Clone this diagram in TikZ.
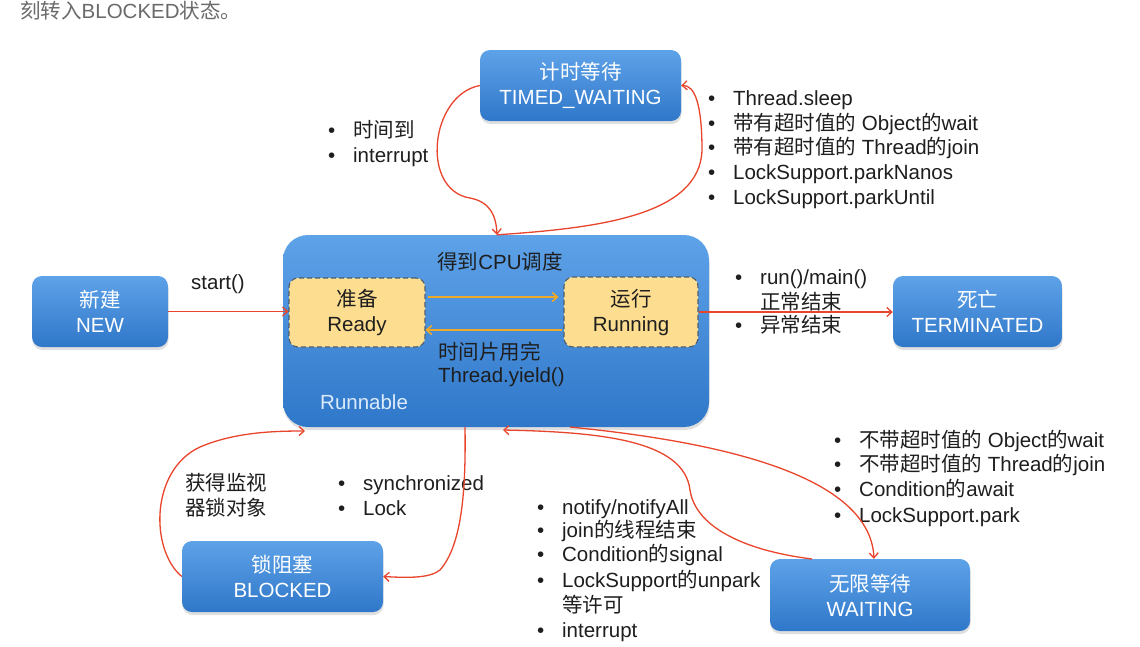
\documentclass[tikz,border=0pt]{standalone}
\usepackage{fontspec}
\setmainfont{Liberation Sans}
\newfontfamily\cjkf{Noto Sans CJK SC}
\newcommand\zh[1]{{\cjkf #1}}
\newcommand\bitem[1]{\makebox[25pt][l]{\textbullet}#1}
\usetikzlibrary{arrows.meta,shadows}
\definecolor{boxtop}{HTML}{5EA2E8}
\definecolor{boxbot}{HTML}{2F77C9}
\definecolor{redline}{HTML}{E8452C}
\definecolor{yel}{HTML}{EFA928}
\definecolor{readyfill}{HTML}{FDDD90}
\definecolor{dashc}{HTML}{4F5D6E}
\definecolor{txt}{HTML}{1E1E1E}
\definecolor{graytxt}{HTML}{6A6A6A}
\definecolor{runlbl}{HTML}{DCEBFA}
\begin{document}
\begin{tikzpicture}[x=1pt,y=-1pt,
  every node/.style={font=\fontsize{20.5}{25}\selectfont, text=txt},
  state/.style={rounded corners=10pt, top color=boxtop, bottom color=boxbot, draw=none, text=white, align=center, inner sep=0pt,
    drop shadow={shadow xshift=0.5pt,shadow yshift=-3pt,opacity=0.25}},
  bigstate/.style={state, rounded corners=25pt},
  sub/.style={rounded corners=9pt, fill=readyfill, draw=dashc, dash pattern=on 5pt off 3pt, line width=1.1pt, align=center, inner sep=0pt},
  redarr/.style={draw=redline, line width=1.3pt, -{Straight Barb[length=5pt,width=9pt]}},
  yelarr/.style={draw=yel, line width=1.6pt, -{Straight Barb[length=5pt,width=9pt]}},
  lbl/.style={anchor=base west, inner sep=0pt},
]
\useasboundingbox[fill=white] (0,0) rectangle (1140,646);

% top cut-off text
\node[lbl, text=graytxt] (top) at (20,18) {\zh{刻转入}BLOCKED\zh{状态。}};

% states
\node[bigstate, minimum width=426pt, minimum height=192pt] (run) at (496,331) {};
\node[sub, minimum width=136pt, minimum height=69pt] (ready) at (357,312.5) {\zh{准备}\\Ready};
\node[sub, minimum width=134pt, minimum height=70pt] (running) at (631,312) {\zh{运行}\\Running};
\node[state, minimum width=201pt, minimum height=71pt] (timed) at (580.5,85.5) {\zh{计时等待}\\TIMED\_WAITING};
\node[state, minimum width=136pt, minimum height=71pt] (new) at (100,311.5) {\zh{新建}\\NEW};
\node[state, minimum width=169pt, minimum height=71pt] (term) at (977.5,311.5) {\zh{死亡}\\TERMINATED};
\node[state, minimum width=201pt, minimum height=71pt] (blocked) at (282.5,576.5) {\zh{锁阻塞}\\BLOCKED};
\node[state, minimum width=200pt, minimum height=72pt] (waiting) at (870,595) {\zh{无限等待}\\WAITING};

% labels inside Runnable
\node (cpu) at (500,262) {\zh{得到}CPU\zh{调度}};
\node[lbl] (slice) at (438,359) {\zh{时间片用完}};
\node[lbl] (yield) at (438,382) {Thread.yield()};
\node[lbl, text=runlbl] (runname) at (320,409) {Runnable};

% other labels
\node[lbl] (start) at (191,289) {start()};
\node[lbl] (t1) at (708,105) {\bitem{Thread.sleep}};
\node[lbl] (t2) at (708,130) {\bitem{\zh{带有超时值的} Object\zh{的}wait}};
\node[lbl] (t3) at (708,154) {\bitem{\zh{带有超时值的} Thread\zh{的}join}};
\node[lbl] (t4) at (708,179) {\bitem{LockSupport.parkNanos}};
\node[lbl] (t5) at (708,204) {\bitem{LockSupport.parkUntil}};
\node[lbl] (b1) at (328,137) {\bitem{\zh{时间到}}};
\node[lbl] (b2) at (328,162) {\bitem{interrupt}};
\node[lbl] (r1) at (735,284) {\bitem{run()/main()}};
\node[lbl] (r2) at (760,309) {\zh{正常结束}};
\node[lbl] (r3) at (735,332) {\bitem{\zh{异常结束}}};
\node[lbl] (m1) at (185,490) {\zh{获得监视}};
\node[lbl] (m2) at (185,515) {\zh{器锁对象}};
\node[lbl] (s1) at (338,490) {\bitem{synchronized}};
\node[lbl] (s2) at (338,515) {\bitem{Lock}};
\node[lbl] (n1) at (537,514) {\bitem{notify/notifyAll}};
\node[lbl] (n2) at (537,537) {\bitem{join\zh{的线程结束}}};
\node[lbl] (n3) at (537,561) {\bitem{Condition\zh{的}signal}};
\node[lbl] (n4) at (537,587) {\bitem{LockSupport\zh{的}unpark}};
\node[lbl] (n5) at (562,612) {\zh{等许可}};
\node[lbl] (n6) at (537,637) {\bitem{interrupt}};
\node[lbl] (w1) at (834,447) {\bitem{\zh{不带超时值的} Object\zh{的}wait}};
\node[lbl] (w2) at (834,471) {\bitem{\zh{不带超时值的} Thread\zh{的}join}};
\node[lbl] (w3) at (834,496) {\bitem{Condition\zh{的}await}};
\node[lbl] (w4) at (834,522) {\bitem{LockSupport.park}};

% connector end points
\coordinate (bIn) at (305,431);
\coordinate (bOut) at (465,427);
\coordinate (wOut) at (812,559);
\coordinate (wIn) at (503,430);
\coordinate (rOut) at (570,427);

% yellow arrows
\draw[yelarr, shorten >=5pt, shorten <=2pt] ([yshift=15.5pt]ready.east) -- ([yshift=15.5pt]ready.east -| running.west);
\draw[yelarr, shorten <=1pt] ([yshift=-18pt]running.west) -- ([yshift=-18pt]running.west -| ready.east);

% red arrows
\draw[redarr] (new.east) -- (new.east -| ready.west);
\draw[redarr] (running.east) -- (running.east -| term.west);
\draw[redarr] (timed.west) .. controls (430,95) and (420,190) .. (470,198) .. controls (490,202) and (496,215) .. ([xshift=1pt]run.north);
\draw[redarr] ([xshift=1pt]run.north) .. controls (600,228) and (700,215) .. (702,150) .. controls (702,105) and (695,85) .. (timed.east);
\draw[redarr] (blocked.west) .. controls (150,550) and (150,470) .. (200,447) .. controls (235,432) and (275,431) .. (bIn);
\draw[redarr] (bOut) .. controls (466,490) and (462,545) .. (440,570) .. controls (430,578) and (410,578) .. (blocked.east);
\draw[redarr] (wOut) .. controls (740,550) and (695,525) .. (690,490) .. controls (684,440) and (600,432) .. (wIn);
\draw[redarr] (rOut) .. controls (700,440) and (870,470) .. ([xshift=4pt]waiting.north);
\end{tikzpicture}
\end{document}
